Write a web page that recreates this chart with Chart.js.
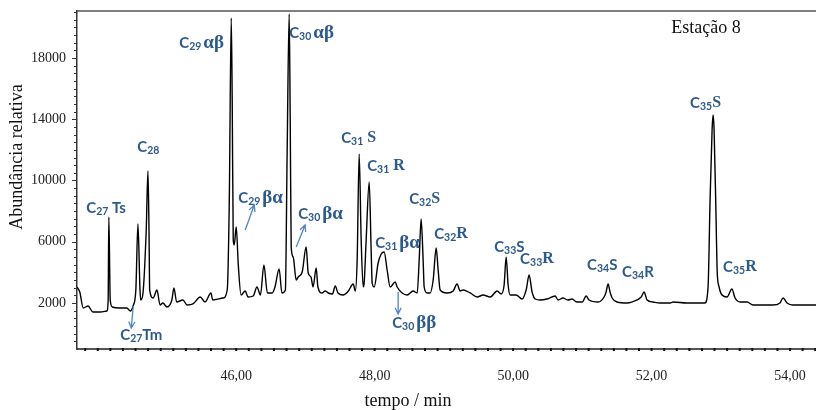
<!DOCTYPE html>
<html><head><meta charset="utf-8">
<script src="https://cdn.jsdelivr.net/npm/chart.js@4.4.1/dist/chart.umd.min.js"></script>
<style>html,body{margin:0;padding:0;background:#fff}#wrap{width:816px;height:410px}</style>
</head><body><div id="wrap"><canvas id="c" width="816" height="410"></canvas></div>
<script>
// retention time (min)
const times = [43.70,43.74,43.79,43.86,43.93,44.03,44.13,44.15,44.16,44.18,44.21,44.32,44.42,44.47,44.51,44.55,44.58,44.61,44.62,44.65,
44.70,44.725,44.74,44.75,44.80,44.855,44.90,44.94,45.00,45.07,45.10,45.14,45.23,45.29,45.375,45.48,45.55,45.635,45.66,45.81,
45.87,45.90,45.928,45.942,45.957,45.971,46.00,46.03,46.07,46.13,46.17,46.245,46.30,46.35,46.40,46.45,46.52,46.56,46.62,46.66,
46.71,46.736,46.765,46.78,46.794,46.823,46.866,46.895,46.953,47.01,47.04,47.08,47.11,47.155,47.18,47.24,47.285,47.33,47.39,47.43,
47.47,47.545,47.62,47.69,47.72,47.747,47.776,47.805,47.834,47.848,47.877,47.921,47.949,47.964,47.993,48.05,48.094,48.137,48.18,48.224,
48.296,48.325,48.397,48.469,48.556,48.614,48.643,48.671,48.70,48.715,48.758,48.80,48.845,48.888,48.917,48.946,49.047,49.134,49.19,49.235,
49.278,49.38,49.48,49.567,49.668,49.77,49.827,49.87,49.899,49.928,49.957,50.043,50.13,50.188,50.231,50.274,50.318,50.39,50.49,50.607,
50.65,50.72,50.79,50.85,50.92,51.00,51.054,51.097,51.227,51.314,51.343,51.372,51.40,51.43,51.50,51.646,51.79,51.85,51.892,51.935,
52.02,52.12,52.27,52.31,52.51,52.66,52.77,52.816,52.845,52.874,52.888,52.903,52.932,52.946,52.975,53.018,53.09,53.16,53.206,53.28,
53.38,53.465,53.61,53.75,53.855,53.90,53.957,54.04,54.245,54.375];
// relative abundance
const abundance = [3045,2718,1673,1804,1412,1412,1478,2196,7616,2196,1739,1673,1673,1478,1804,2849,7159,2849,2196,2522,
6767,10620,6767,2849,2327,2849,1869,2000,1739,2196,2980,2065,2196,1869,1935,2392,2065,2653,2196,2327,
2849,8726,20611,15256,6114,5787,6963,4481,2522,2784,2392,2457,3045,2522,4481,2653,2653,3045,4220,2653,
2849,11991,20872,13950,5657,5004,3502,3698,4024,5657,3959,3698,3045,4286,3045,2653,2784,2653,2588,3110,
2653,2522,2784,3241,2784,4808,11730,6114,3045,3306,6114,9901,5461,3306,3045,4612,5200,5330,4155,3045,
3371,3045,2653,2522,2784,2653,4808,7485,4808,3045,2653,2653,3502,5592,4155,2849,2653,2784,3241,2784,
2849,2653,2392,2522,2392,2784,2588,3175,5004,3175,2522,2522,2261,2849,3828,2718,2261,2196,2261,2457,
2196,2327,2196,2261,2065,2065,2457,2196,2065,2392,2718,3241,2718,2327,2065,2000,2196,2392,2718,2196,
2065,2000,2000,2065,2000,2000,2000,3045,8726,13297,14276,13297,7420,4220,3045,2522,2392,2914,2327,2065,
2065,1869,1869,1869,2000,2327,2000,1869,1869,1869];
const xTicks = [46,48,50,52,54];
const yTicks = [2000,6000,10000,14000,18000];
const xRange = [43.70, 54.375];
const yRange = [-1004, 21068];
const xTitle = 'tempo / min';
const yTitle = 'Abundância relativa';
const stationLabel = 'Estação 8';
const stationAt = [52.787, 19958];
// peak labels: anchor [time, abundance] of label start, text parts
const peakLabels = [
 {at:[43.834,8204], parts:[['C','c'],['27','sub'],[' Ts','c']]},
 {at:[44.325,-90], parts:[['C','c'],['27','sub'],['Tm','c']]},
 {at:[44.570,12187], parts:[['C','c'],['28','sub']]},
 {at:[45.177,18978], parts:[['C','c'],['29','sub'],['αβ','g']]},
 {at:[46.765,19631], parts:[['C','c'],['30','sub'],['αβ','g']]},
 {at:[46.029,8857], parts:[['C','c'],['29','sub'],['βα','g']]},
 {at:[46.895,7812], parts:[['C','c'],['30','sub'],['βα','g']]},
 {at:[47.516,12775], parts:[['C','c'],['31','sub'],[' S','s']]},
 {at:[47.892,10946], parts:[['C','c'],['31','sub'],[' R','s']]},
 {at:[48.007,5918], parts:[['C','c'],['31','sub'],['βα','g']]},
 {at:[48.253,694], parts:[['C','c'],['30','sub'],['ββ','g']]},
 {at:[48.498,8791], parts:[['C','c'],['32','sub'],['S','s']]},
 {at:[48.859,6506], parts:[['C','c'],['32','sub'],['R','s']]},
 {at:[49.726,5657], parts:[['C','c'],['33','sub'],['S','c']]},
 {at:[50.101,4873], parts:[['C','c'],['33','sub'],['R','s']]},
 {at:[51.068,4481], parts:[['C','c'],['34','sub'],['S','c']]},
 {at:[51.574,4024], parts:[['C','c'],['34','sub'],['R','c']]},
 {at:[52.556,15060], parts:[['C','c'],['35','sub'],['S','s']]},
 {at:[53.032,4351], parts:[['C','c'],['35','sub'],['R','s']]}
];
// arrows: from [t,A] to [t,A] (head at 'to')
const arrows = [
 {from:[44.513,1804], to:[44.484,367]},
 {from:[46.130,6767], to:[46.260,8399]},
 {from:[46.866,5657], to:[46.996,7093]},
 {from:[48.339,2718], to:[48.339,1282]}
];

const LABEL_COLOR = '#2C5A8E';
const ARROW_COLOR = '#4F86C6';
const STY = {
  c:   {font:'bold 15px Lato', dy:0, pre:0},
  sub: {font:'bold 10.5px Lato', dy:4, pre:0},
  g:   {font:'bold 19px "Liberation Serif"', dy:0, pre:2},
  s:   {font:'bold 16px "Liberation Serif"', dy:0, pre:0}
};

const decor = {
  id:'decor',
  afterDraw(chart){
    const ctx = chart.ctx, xs = chart.scales.x, ys = chart.scales.y, a = chart.chartArea;
    ctx.save();
    // top border
    ctx.strokeStyle = '#555'; ctx.lineWidth = 1.5;
    ctx.beginPath(); ctx.moveTo(a.left, a.top); ctx.lineTo(a.right, a.top); ctx.stroke();
    // y minor ticks
    ctx.strokeStyle = '#333'; ctx.lineWidth = 1;
    for (let v = -1000; v <= 21000; v += 500){
      const y = Math.round(ys.getPixelForValue(v)) + 0.5;
      if (y < a.top || y > a.bottom) continue;
      const len = (yTicks.includes(v)) ? 5 : 3;
      ctx.beginPath(); ctx.moveTo(a.left - len, y); ctx.lineTo(a.left, y); ctx.stroke();
    }
    // x minor ticks
    ctx.strokeStyle = '#111'; ctx.lineWidth = 2;
    const step = 2/11;
    for (let k = -13; k <= 50; k++){
      const v = 46 + k*step;
      if (v < xRange[0] || v > xRange[1]) continue;
      const x = xs.getPixelForValue(v);
      ctx.beginPath(); ctx.moveTo(x, a.bottom - 1); ctx.lineTo(x, a.bottom + 2); ctx.stroke();
    }
    // titles
    ctx.fillStyle = '#111';
    ctx.font = '18px "Liberation Serif"';
    ctx.textAlign = 'center'; ctx.textBaseline = 'middle';
    ctx.fillText(xTitle, 408, 401);
    ctx.save(); ctx.translate(17, 157); ctx.rotate(-Math.PI/2);
    ctx.fillText(yTitle, 0, 0); ctx.restore();
    ctx.fillText(stationLabel, xs.getPixelForValue(stationAt[0]), ys.getPixelForValue(stationAt[1]));
    // peak labels
    ctx.textAlign = 'left'; ctx.textBaseline = 'middle'; ctx.fillStyle = LABEL_COLOR;
    for (const L of peakLabels){
      let cx = xs.getPixelForValue(L.at[0]);
      const cy = ys.getPixelForValue(L.at[1]);
      for (const [txt, st] of L.parts){
        const S = STY[st];
        ctx.font = S.font;
        cx += S.pre;
        ctx.fillText(txt, cx, cy + S.dy);
        cx += ctx.measureText(txt).width;
      }
    }
    // arrows
    ctx.strokeStyle = ARROW_COLOR; ctx.lineWidth = 1.3;
    for (const A of arrows){
      const x1 = xs.getPixelForValue(A.from[0]), y1 = ys.getPixelForValue(A.from[1]);
      const x2 = xs.getPixelForValue(A.to[0]), y2 = ys.getPixelForValue(A.to[1]);
      const ang = Math.atan2(y2 - y1, x2 - x1), h = 7, w = 0.45;
      ctx.beginPath(); ctx.moveTo(x1, y1); ctx.lineTo(x2, y2);
      ctx.moveTo(x2 - h*Math.cos(ang - w), y2 - h*Math.sin(ang - w));
      ctx.lineTo(x2, y2);
      ctx.lineTo(x2 - h*Math.cos(ang + w), y2 - h*Math.sin(ang + w));
      ctx.stroke();
    }
    ctx.restore();
  }
};

new Chart(document.getElementById('c'), {
  type: 'line',
  data: { datasets: [{
    data: times.map((t, i) => ({x: t, y: abundance[i]})),
    borderColor: '#000', borderWidth: 1.4, pointRadius: 0, fill: false,
    cubicInterpolationMode: 'monotone'
  }]},
  options: {
    responsive: false, animation: false, devicePixelRatio: 1,
    layout: { padding: { top: 11, right: 0, left: 0, bottom: 0 } },
    plugins: { legend: {display: false}, tooltip: {enabled: false} },
    scales: {
      x: {
        type: 'linear', min: xRange[0], max: xRange[1],
        afterBuildTicks: s => { s.ticks = xTicks.map(v => ({value: v})); },
        afterFit: s => { s.height = 61; s.paddingLeft = 0; s.paddingRight = 0; },
        grid: { display: false, drawTicks: false },
        border: { display: true, color: '#555', width: 2 },
        ticks: { padding: 19, color: '#222', maxRotation: 0, autoSkip: false,
          font: { family: 'Liberation Serif', size: 14 },
          callback: v => v.toFixed(2).replace('.', ',') }
      },
      y: {
        type: 'linear', min: yRange[0], max: yRange[1],
        afterBuildTicks: s => { s.ticks = yTicks.map(v => ({value: v})); },
        afterFit: s => { s.width = 77; s.paddingTop = 0; s.paddingBottom = 0; },
        grid: { display: false, drawTicks: false },
        border: { display: true, color: '#333', width: 1.5 },
        ticks: { padding: 11, color: '#222', autoSkip: false,
          font: { family: 'Liberation Serif', size: 14 },
          callback: v => String(v) }
      }
    }
  },
  plugins: [decor]
});
</script></body></html>
